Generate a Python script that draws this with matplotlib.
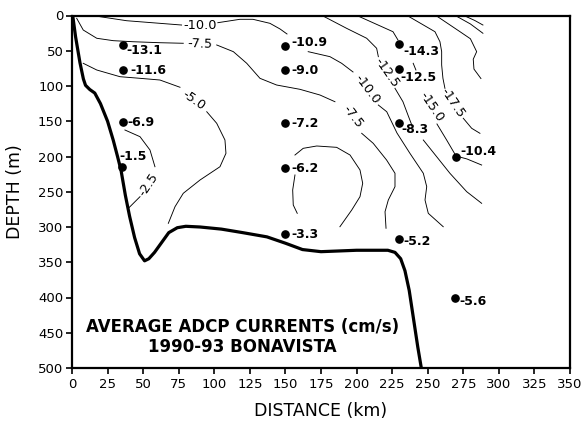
import numpy as np
import matplotlib
matplotlib.use("Agg")
import matplotlib.pyplot as plt

# mooring positions (km, m) and mean ADCP current (cm/s)
station_km = [35.6, 36, 35.6, 35, 149.7, 149.7, 149.7, 149.7, 149.7, 230, 230, 230, 230, 270, 269]
station_depth = [42, 77, 151, 215, 43, 77, 153, 217, 310, 41, 76, 152, 317, 201, 401]
station_val = [-13.1, -11.6, -6.9, -1.5, -10.9, -9.0, -7.2, -6.2, -3.3, -14.3, -12.5, -8.3, -5.2, -10.4, -5.6]

# bottom profile
bottom_km = [0.5, 2.5, 5.6, 8, 9.5, 12.5, 16, 20, 25, 29, 32, 34.5, 37.5, 40.5, 44, 47.5, 51, 54, 58,
             63, 68, 74, 80, 90, 105, 120, 137, 150, 162, 175, 200, 222, 227, 231, 234, 237, 240, 243, 245.5]
bottom_depth = [0, 30, 67, 90, 99, 105, 110, 125, 150, 177, 200, 220, 255, 285, 315, 338, 348, 345, 336,
                322, 308, 301, 299, 300, 303, 308, 314, 323, 332, 335, 333, 333, 336, 345, 362, 390, 430, 470, 500]

# hand drawn isotachs as (km, depth); None = break under a label
iso_25 = [(37.2, 162.4), (47.8, 171.9), (54.8, 190.8), (58.3, 214.5), None,
          (47.8, 257), (39.6, 273.5)]
iso_50 = [(7.9, 67.8), (17.4, 77.3), (33.7, 86.8), (47.8, 89.1), (61.8, 91.5), (75.9, 101.8), None,
          (94.7, 136.5), (101.7, 152.9), (107.5, 176.6), (108.2, 195.5), (104, 214.5), (90, 233.3),
          (78.2, 252.2), (72.4, 271.2), (67.7, 294.8)]
iso_75 = [(3.3, 4), (7.9, 20.6), (17.4, 32.3), (29, 35.7), (42.9, 37.2), (61.8, 38.6), (78.2, 39.4), None,
          (101.7, 41.8), (113.4, 51.3), (122.8, 67.8), (132.1, 89.1), (143.8, 98.6), (160.2, 104.7),
          (174.3, 112.8), (184.8, 122.3), None,
          (203.6, 167.1), (211.7, 181.3), (221.1, 205), (227, 223.8), (227, 242.8), (222.3, 261.7),
          (220, 278.3), (220.7, 301.8)]
iso_loop = [(158.3, 280.6), (155.5, 268.8), (155.1, 247.5), (156.7, 226.2), None,
            (156.7, 197.9), (162.5, 188.4), (172, 185.1), (186, 187), (195.4, 197.9), (202.4, 219.1),
            (204.3, 238), (202.4, 257), (196.6, 275.9), (188.3, 299.6)]
iso_100 = [(19.7, 1.7), (38.4, 7.4), (61.8, 11.1), (77, 13.5), None,
           (102.5, 10.2), (118, 5.4), (127.2, 5.4), (139.1, 11.1), (146.2, 19.1), (151.1, 26.2), None,
           (166, 51.3), (181.3, 58.4), (189.5, 67.8), (197.5, 80.1), None,
           (215.3, 127), (221.2, 136.5), (228.4, 166.7), (237.5, 195.5), (246.9, 223.8), (249.3, 242.8),
           (248.1, 261.7), (250.4, 280.6), (260.9, 299.6)]
iso_125 = [(176.4, 0.7), (193, 18.2), (207.1, 32.3), (214.1, 46.5), (215.3, 58.4), None,
           (227, 103.3), (232.6, 122.3), (236.1, 141.1), (239.6, 159.6), None,
           (246.9, 176.6), (256.3, 200.3), (265.6, 223.8), (277.4, 249.9), (287.9, 266.4)]
iso_150 = [(201, 0.7), (225.6, 23), (229.1, 34.8), None, (239.8, 67.8), (241.7, 77.3), None,
           (256.5, 153.9), (263.3, 176.6), (269.9, 199.3), (277.6, 203.5), (287.9, 212.1)]
iso_175 = [(236.1, 0.7), (255.1, 23), (258.6, 37.2), (259.8, 51.3), (259.8, 70.2), (260.7, 89.1),
           (262.1, 103.3), None, (275, 145.8), (280.9, 160), (286.7, 167.1)]
iso_200 = [(257, 1.7), (272.7, 23), (280, 33), (284.4, 51.3), (282, 62), (282.5, 76), (287.4, 89.4)]
iso_225 = [(270.6, 1.4), (280, 12), (288.8, 25.2)]
iso_250 = [(276.9, 1.4), (283, 7), (288.8, 13.5)]

contour_text = ["-10.0", "-7.5", "-5.0", "-2.5", "-12.5", "-10.0", "-7.5", "-15.0", "-17.5"]
contour_km = [90, 90.3, 85.7, 53.6, 221.1, 207.4, 197.1, 252.8, 267.7]
contour_depth = [13.5, 40.4, 119.9, 240.4, 80.9, 104, 143.3, 129, 123.4]
contour_rot = [0, -2, -35, 56, -55, -53, -52, -56, -56]

# label offsets from the dot, in pixels (x right, y down)
label_dx = [4, 7, 5, -2, 6.5, 6.5, 6.5, 6.5, 6.5, 4, 1.5, 2.5, 4.5, 4, 4.5]
label_dy = [5, 1, 1, -10.5, -3.5, 1, 0, 0, 0.5, 7, 8, 6.5, 2.7, -5.5, 3.7]

plt.rcParams['font.family'] = ['DejaVu Sans']

fig = plt.figure(figsize=(5.85, 4.24), dpi=100)
ax = fig.add_axes([72 / 585, 1 - 368 / 424, 498 / 585, 352.5 / 424])


def xy(pts):
    arr = np.array([(np.nan, np.nan) if p is None else p for p in pts], dtype=float)
    return arr[:, 0], arr[:, 1]


for iso in [iso_25, iso_50, iso_75, iso_loop, iso_100, iso_125, iso_150, iso_175, iso_200, iso_225, iso_250]:
    x, y = xy(iso)
    ax.plot(x, y, color='black', lw=0.65, zorder=2)

for t, k, d, r in zip(contour_text, contour_km, contour_depth, contour_rot):
    ax.text(k, d, t, rotation=r, fontsize=9.3, ha='center', va='center',
            rotation_mode='anchor', zorder=3)

ax.plot(bottom_km, bottom_depth, color='black', lw=2.3, solid_capstyle='butt', zorder=4)

ax.plot(station_km, station_depth, 'o', color='black', ms=5.2, zorder=5)
for k, d, v, dx, dy in zip(station_km, station_depth, station_val, label_dx, label_dy):
    ax.annotate(f"{v:.1f}", (k, d), xytext=(dx, -dy), textcoords='offset pixels',
                fontsize=9, fontweight='bold', ha='left', va='center', zorder=5)

ax.text(120, 456, "AVERAGE ADCP CURRENTS (cm/s)\n1990-93 BONAVISTA", fontsize=12,
        fontweight='bold', ha='center', va='center', multialignment='center', linespacing=1.1)

ax.set_xlim(0, 350)
ax.set_ylim(500, 0)
ax.set_xticks(np.arange(0, 351, 25))
ax.set_yticks(np.arange(0, 501, 50))
ax.tick_params(direction='out', length=4, width=1.2, labelsize=9.5)
ax.tick_params(axis='x', pad=3.5)
ax.tick_params(axis='y', pad=2.2)
for s in ax.spines.values():
    s.set_linewidth(1.6)

ax.set_xlabel("DISTANCE (km)", fontsize=12.5, va='center')
ax.xaxis.set_label_coords(0.5, (368 - 411) / 352.5)
ax.set_ylabel("DEPTH (m)", fontsize=12.5, va='center')
ax.yaxis.set_label_coords((15 - 72) / 498, 0.5)

fig.savefig("out.png", dpi=100)
